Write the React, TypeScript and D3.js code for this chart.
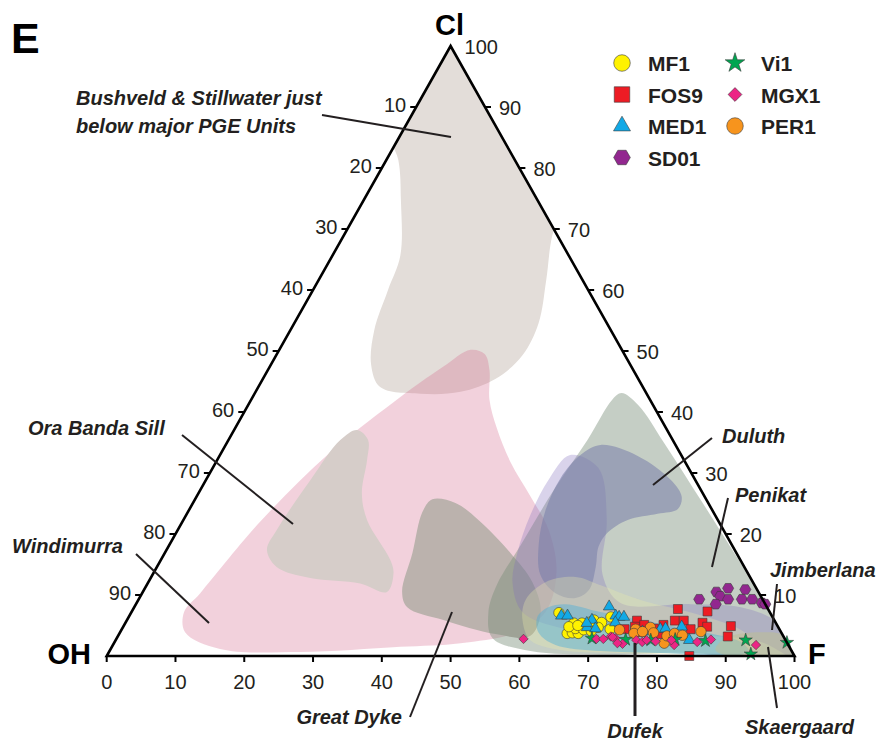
import React from "react";
import * as d3 from "d3";

const W = 883;
const H = 744;

// Samples as [F, Cl] in percent; OH = 100 - F - Cl
const mf1: [number, number][] = [
  [62.2, 7.1], [65.2, 5.4], [65.1, 3.7], [65.8, 3.8], [66.7, 3.7], [65.9, 4.5],
  [66.4, 5.4], [67.9, 5.9], [69.2, 5.5], [69.1, 4.7], [70.1, 6.4], [71.0, 4.4],
  [67.2, 4.3], [68.4, 4.1], [64.8, 4.8], [66.0, 5.0], [67.6, 5.6],
];
const fos9: [number, number][] = [
  [79.2, 7.7], [83.7, 7.3], [83.9, 5.45], [79.7, 5.8], [81.0, 5.8], [82.7, 4.4],
  [84.9, 4.8], [88.3, 4.9], [88.7, 3.2], [78.4, 5.1], [74.2, 5.8], [74.4, 4.8],
  [75.6, 5.1], [77.3, 4.5], [73.1, 4.4], [84.7, 0.0], [78.6, 3.6], [75.7, 3.9],
];
const med1: [number, number][] = [
  [62.8, 6.6], [63.7, 6.6], [69.0, 8.1], [67.6, 5.9], [67.5, 4.7], [68.8, 4.5],
  [70.7, 6.6], [71.3, 6.4], [72.0, 6.4], [71.2, 5.5], [75.9, 4.0], [78.3, 4.4],
  [79.0, 4.5], [81.2, 4.8], [83.4, 2.6], [67.1, 5.4],
];
const sd01: [number, number][] = [
  [81.5, 9.3], [83.4, 10.5], [84.8, 11.1], [87.4, 10.9], [84.3, 9.8], [85.7, 9.3],
  [84.3, 8.5], [87.7, 9.3], [89.2, 9.3], [90.9, 8.7], [91.5, 8.5],
];
const vi1: [number, number][] = [
  [69.1, 2.9], [74.1, 2.7], [77.8, 2.6], [81.3, 2.7], [85.8, 2.5], [91.6, 2.6],
  [93.5, 0.3], [97.8, 2.2],
];
const mgx1: [number, number][] = [
  [59.2, 2.8], [69.8, 2.8], [70.8, 2.8], [72.5, 2.9], [74.0, 2.0], [75.7, 2.6],
  [76.7, 2.3], [77.2, 2.6], [81.6, 1.8], [80.8, 2.6], [84.7, 2.3], [86.5, 2.7],
  [93.5, 1.8], [71.7, 3.2], [78.6, 2.4], [72.0, 3.1], [73.2, 2.1],
];
const per1: [number, number][] = [
  [72.4, 4.3], [74.7, 4.4], [74.8, 3.7], [76.7, 4.7], [77.6, 3.8], [80.0, 2.1],
  [79.8, 3.3], [80.7, 3.7], [82.0, 3.4], [84.4, 4.0], [75.9, 4.0],
];

// Field outlines as [F, Cl]; a few points lie just past the triangle and are clipped
const bushveldField: [number, number][] = [
  [-1.9, 104.3], [29.3, 74.75], [30.3, 69.0], [33.1, 61.6], [35.5, 54.6], [35.8, 49.3],
  [33.8, 45.4], [29.8, 43.3], [24.1, 43.0], [17.7, 44.1], [14.6, 47.7], [12.2, 53.4],
  [10.9, 60.0], [9.85, 65.7], [5.4, 74.75], [1.75, 81.3], [-3.45, 87.9],
];
const windimurraField: [number, number][] = [
  [27.8, 50.2], [30.2, 49.5], [32.2, 46.9], [34.65, 42.0], [38.0, 37.4], [42.8, 31.8],
  [48.5, 26.2], [53.9, 20.7], [58.5, 13.8], [60.2, 7.2], [57.5, 3.8], [50.4, 2.1],
  [41.95, 1.5], [27.8, 0.65], [15.9, 1.15], [9.45, 3.9], [7.65, 7.2], [8.45, 10.3],
  [11.3, 22.0], [15.6, 32.95], [20.9, 41.6], [25.2, 47.4],
];
const oraBandaField: [number, number][] = [
  [17.9, 37.05], [20.3, 35.4], [21.8, 32.1], [23.75, 26.7], [26.7, 22.3], [33.4, 15.7],
  [34.9, 13.6], [35.5, 10.5], [30.9, 11.9], [23.2, 12.8], [17.4, 14.6], [14.6, 17.4],
  [14.4, 20.65], [15.2, 28.85], [16.26, 35.4],
];
const greatDykeField: [number, number][] = [
  [34.5, 25.7], [38.15, 25.1], [42.9, 22.3], [50.25, 16.9], [55.85, 12.1], [59.5, 7.2],
  [59.95, 3.3], [54.7, 3.6], [46.0, 5.9], [39.7, 8.0], [37.7, 10.5], [36.0, 16.9],
  [34.1, 23.6],
];
const penikatField: [number, number][] = [
  [53.3, 43.1], [56.75, 41.1], [63.5, 35.0], [74.2, 25.0], [84.8, 15.0], [95.3, 5.0],
  [101.0, -2.0], [86.0, 0.4], [71.8, 0.2], [61.2, 0.8], [54.6, 2.95], [51.9, 7.2],
  [50.9, 11.6], [51.1, 18.2], [51.4, 27.2], [52.2, 35.4], [52.5, 42.0],
];
const jimberlanaField: [number, number][] = [
  [50.9, 32.95], [56.1, 30.8], [61.55, 22.3], [65.45, 13.3], [70.35, 8.7], [80.65, 8.5],
  [88.2, 8.0], [94.5, 5.6], [101.4, -1.0], [93.95, 2.3], [84.7, 3.4], [74.2, 3.9],
  [63.7, 4.6], [56.85, 7.2], [52.95, 12.1], [51.25, 16.9], [50.05, 23.1], [49.8, 28.85],
];
const duluthField: [number, number][] = [
  [54.5, 34.6], [60.8, 32.8], [67.6, 28.85], [70.55, 26.1], [71.0, 24.1], [68.45, 23.3],
  [64.6, 22.3], [62.7, 20.2], [62.55, 17.9], [63.8, 14.6], [64.7, 10.8], [63.4, 9.5],
  [60.1, 10.3], [56.4, 13.3], [53.7, 18.2], [51.85, 23.9], [51.4, 29.2], [52.4, 32.95],
];
const dufekField: [number, number][] = [
  [56.3, 9.2], [57.75, 12.1], [61.7, 12.95], [66.0, 11.6], [73.0, 9.2], [83.0, 6.7],
  [90.0, 4.3], [94.45, 1.3], [86.2, 0.33], [74.45, 0.5], [65.5, 1.0], [60.3, 2.6],
  [57.5, 5.9],
];
const cyanField: [number, number][] = [
  [59.4, 6.4], [60.2, 8.0], [62.45, 8.5], [68.2, 7.2], [74.65, 5.9], [82.75, 4.3],
  [91.05, 2.3], [92.95, 0.8], [92.1, 0.16], [80.25, 0.5], [71.4, 0.8], [64.35, 1.8],
  [60.9, 3.8],
];
const skaergaardField: [number, number][] = [
  [88.5, 2.95], [93.15, 3.9], [97.05, 3.3], [101.5, -0.66], [92.4, -0.33], [88.0, 1.0],
];

const fields = [
  { name: "Bushveld & Stillwater", outline: bushveldField, fill: "#e3ddd9", opacity: 1 },
  { name: "Windimurra", outline: windimurraField, fill: "rgb(212,102,138)", opacity: 0.3 },
  { name: "Ora Banda Sill", outline: oraBandaField, fill: "#d6cdc9", opacity: 1 },
  { name: "Great Dyke", outline: greatDykeField, fill: "#bbb2ad", opacity: 1 },
  { name: "Penikat", outline: penikatField, fill: "rgb(120,142,120)", opacity: 0.43 },
  { name: "Jimberlana", outline: jimberlanaField, fill: "rgb(130,110,190)", opacity: 0.3 },
  { name: "Duluth", outline: duluthField, fill: "rgb(120,125,170)", opacity: 0.55 },
  { name: "Dufek", outline: dufekField, fill: "rgb(232,232,170)", opacity: 0.32 },
  { name: "Dufek core", outline: cyanField, fill: "rgb(80,175,215)", opacity: 0.45 },
  { name: "Skaergaard", outline: skaergaardField, fill: "rgb(190,190,150)", opacity: 0.55 },
];

const hexagon: d3.SymbolType = {
  draw(ctx, size) {
    const r = Math.sqrt(size / (1.5 * Math.sqrt(3)));
    for (let i = 0; i < 6; i++) {
      const a = (Math.PI / 3) * i;
      if (i === 0) ctx.moveTo(r * Math.cos(a), r * Math.sin(a));
      else ctx.lineTo(r * Math.cos(a), r * Math.sin(a));
    }
    ctx.closePath();
  },
};
const diamond: d3.SymbolType = {
  draw(ctx, size) {
    const h = Math.sqrt(size / 2);
    ctx.moveTo(0, -h);
    ctx.lineTo(h, 0);
    ctx.lineTo(0, h);
    ctx.lineTo(-h, 0);
    ctx.closePath();
  },
};

type Series = {
  name: string;
  data: [number, number][];
  type: d3.SymbolType;
  color: string;
  size: number;
  legendSize: number;
};

// drawing order (later on top)
const series: Series[] = [
  { name: "FOS9", data: fos9, type: d3.symbolSquare, color: "#ed1c24", size: 80, legendSize: 240 },
  { name: "MF1", data: mf1, type: d3.symbolCircle, color: "#fff200", size: 85, legendSize: 215 },
  { name: "MED1", data: med1, type: d3.symbolTriangle, color: "#12a9e6", size: 58, legendSize: 125 },
  { name: "PER1", data: per1, type: d3.symbolCircle, color: "#f7941d", size: 85, legendSize: 215 },
  { name: "SD01", data: sd01, type: hexagon, color: "#92278f", size: 80, legendSize: 180 },
  { name: "Vi1", data: vi1, type: d3.symbolStar, color: "#00a651", size: 55, legendSize: 120 },
  { name: "MGX1", data: mgx1, type: diamond, color: "#ec2585", size: 44, legendSize: 95 },
];

const legendColumns: string[][] = [
  ["MF1", "FOS9", "MED1", "SD01"],
  ["Vi1", "MGX1", "PER1"],
];

const bottomTicks = d3.range(0, 101, 10);
const leftTicks = d3.range(10, 100, 10);
const rightTicks = d3.range(10, 101, 10);

// F runs along the base, Cl is the height
const fScale = d3.scaleLinear().domain([0, 100]).range([106.7, 794.5]);
const clScale = d3.scaleLinear().domain([0, 100]).range([656, 46]);
const project = (f: number, cl: number): [number, number] => [fScale(f + cl / 2), clScale(cl)];

const fieldPath = d3.line<[number, number]>().curve(d3.curveCatmullRomClosed.alpha(0.5));

const FONT = "'Liberation Sans', Arial, Helvetica, sans-serif";
const INK = "#231f20";

const notes = [
  { lines: ["Bushveld & Stillwater just", "below major PGE Units"], x: 76, y: 105, anchor: "start", lead: [[322, 115], [451, 137]] },
  { lines: ["Ora Banda Sill"], x: 28, y: 435, anchor: "start", lead: [[182, 435], [293, 524]] },
  { lines: ["Windimurra"], x: 12, y: 553, anchor: "start", lead: [[136, 554], [209, 623]] },
  { lines: ["Great Dyke"], x: 402, y: 724, anchor: "end", lead: [[452, 612], [410, 717]] },
  { lines: ["Dufek"], x: 635, y: 738, anchor: "middle", lead: [[635, 643], [635, 716]], heavy: true },
  { lines: ["Skaergaard"], x: 745, y: 734, anchor: "start", lead: [[768, 647], [777, 708]] },
  { lines: ["Jimberlana"], x: 770, y: 577, anchor: "start", lead: [[777, 584], [772, 630]] },
  { lines: ["Penikat"], x: 735, y: 502, anchor: "start", lead: [[728, 498], [712, 567]] },
  { lines: ["Duluth"], x: 722, y: 443, anchor: "start", lead: [[712, 438], [653, 485]] },
];

export default function App() {
  const A = project(0, 100);
  const L = project(0, 0);
  const R = project(100, 0);
  const tri = `M${L[0]},${L[1]}L${R[0]},${R[1]}L${A[0]},${A[1]}Z`;
  const sym = d3.symbol();

  return (
    <svg width={W} height={H} viewBox={`0 0 ${W} ${H}`} style={{ position: "absolute", left: 0, top: 0, background: "#fff" }}>
      <defs>
        <clipPath id="tri-clip">
          <path d={tri} />
        </clipPath>
      </defs>
      <rect width={W} height={H} fill="#fff" />

      <g clipPath="url(#tri-clip)">
        {fields.map((fd) => (
          <path
            key={fd.name}
            d={fieldPath(fd.outline.map(([f, c]) => project(f, c))) || ""}
            fill={fd.fill}
            fillOpacity={fd.opacity}
          />
        ))}
      </g>

      {series.map((s) => (
        <g key={s.name}>
          {s.data.map(([f, c], i) => {
            const [x, y] = project(f, c);
            return (
              <path
                key={i}
                d={sym.type(s.type).size(s.size)() || ""}
                transform={`translate(${x},${y})`}
                fill={s.color}
                stroke="#3a3a3a"
                strokeWidth={0.6}
              />
            );
          })}
        </g>
      ))}

      {/* frame */}
      <path d={tri} fill="none" stroke="#000" strokeWidth={2.6} strokeLinejoin="miter" />

      {bottomTicks.map((t) => {
        const [x, y] = project(t, 0);
        return (
          <g key={`b${t}`}>
            <line x1={x} y1={y} x2={x} y2={y + 6} stroke="#000" strokeWidth={2} />
            <text x={x} y={y + 33} textAnchor="middle" fontFamily={FONT} fontSize={20} fill={INK}>{t}</text>
          </g>
        );
      })}
      {leftTicks.map((t) => {
        const [x, y] = project(0, 100 - t);
        return (
          <g key={`l${t}`}>
            <line x1={x - 6} y1={y} x2={x} y2={y} stroke="#000" strokeWidth={2} />
            <text x={x - 10} y={y + 5} textAnchor="end" fontFamily={FONT} fontSize={20} fill={INK}>{t}</text>
          </g>
        );
      })}
      {rightTicks.map((t) => {
        const [x, y] = project(100 - t, t);
        return (
          <g key={`r${t}`}>
            {t < 100 && <line x1={x} y1={y} x2={x + 6} y2={y} stroke="#000" strokeWidth={2} />}
            <text x={x + 14} y={y + 8} textAnchor="start" fontFamily={FONT} fontSize={20} fill={INK}>{t}</text>
          </g>
        );
      })}

      {/* apex names */}
      <text x={A[0] - 1} y={35} textAnchor="middle" fontFamily={FONT} fontWeight="bold" fontSize={29} fill="#000">Cl</text>
      <text x={91} y={664} textAnchor="end" fontFamily={FONT} fontWeight="bold" fontSize={29} fill="#000">OH</text>
      <text x={808} y={664} textAnchor="start" fontFamily={FONT} fontWeight="bold" fontSize={29} fill="#000">F</text>
      <text x={11} y={53} fontFamily={FONT} fontWeight="bold" fontSize={43} fill="#000">E</text>

      {/* field labels */}
      {notes.map((n) => (
        <g key={n.lines[0]}>
          <line
            x1={n.lead[0][0]} y1={n.lead[0][1]} x2={n.lead[1][0]} y2={n.lead[1][1]}
            stroke={INK} strokeWidth={n.heavy ? 3 : 2}
          />
          <text x={n.x} y={n.y} textAnchor={n.anchor as any} fontFamily={FONT} fontStyle="italic" fontWeight="bold" fontSize={20} fill={INK}>
            {n.lines.map((ln, i) => (
              <tspan key={i} x={n.x} dy={i === 0 ? 0 : 28}>{ln}</tspan>
            ))}
          </text>
        </g>
      ))}

      {/* legend */}
      {legendColumns.map((col, ci) =>
        col.map((name, ri) => {
          const s = series.find((q) => q.name === name)!;
          const mx = ci === 0 ? 622 : 735;
          const my = 63 + ri * 31.5;
          return (
            <g key={name}>
              <path d={sym.type(s.type).size(s.legendSize)() || ""} transform={`translate(${mx},${my})`} fill={s.color} stroke="#3a3a3a" strokeWidth={0.6} />
              <text x={mx + 26} y={my + 8} fontFamily={FONT} fontWeight="bold" fontSize={21} fill={INK}>{name}</text>
            </g>
          );
        })
      )}
    </svg>
  );
}
